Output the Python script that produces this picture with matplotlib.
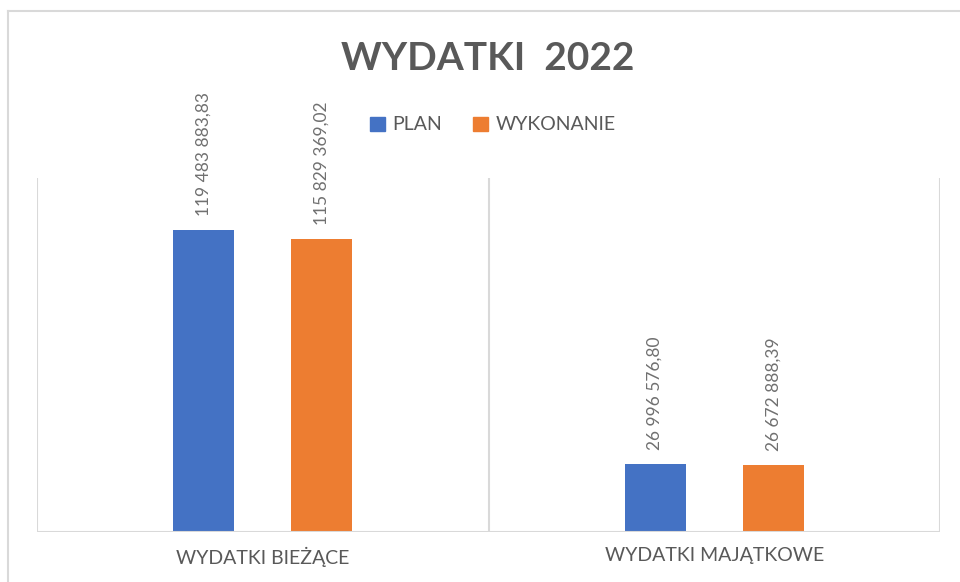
import numpy as np
import matplotlib.pyplot as plt
from matplotlib.patches import Patch
from matplotlib.lines import Line2D

categories = ['WYDATKI BIEŻĄCE', 'WYDATKI MAJĄTKOWE']
plan = [119483883.83, 26996576.80]
wykonanie = [115829369.02, 26672888.39]
series_names = ['PLAN', 'WYKONANIE']
title = 'WYDATKI  2022'

blue = '#4472C4'
orange = '#ED7D31'
grid = '#D9D9D9'
txt = '#595959'

plt.rcParams['font.family'] = ['Lato', 'DejaVu Sans']


def fmt(v):
    s = f'{v:,.2f}'
    return s.replace(',', ' ').replace('.', ',')


fig = plt.figure(figsize=(9.6, 5.82), dpi=100)

# outer frame (left and top edges visible)
fig.add_artist(Line2D([8 / 960, 8 / 960], [0, 1 - 11 / 582], transform=fig.transFigure,
                      color=grid, lw=1.5))
fig.add_artist(Line2D([8 / 960, 1], [1 - 11 / 582, 1 - 11 / 582], transform=fig.transFigure,
                      color=grid, lw=1.5))

ax = fig.add_axes([37 / 960, 50 / 582, 903 / 960, 354 / 582])
x = np.arange(len(categories))
w = 0.135
off = 0.131
b1 = ax.bar(x - off, plan, w, color=blue, label=series_names[0])
b2 = ax.bar(x + off, wykonanie, w, color=orange, label=series_names[1])

for bars, vals in [(b1, plan), (b2, wykonanie)]:
    for rect, v in zip(bars, vals):
        ax.annotate(fmt(v), (rect.get_x() + rect.get_width() / 2, v),
                    xytext=(0, 10), textcoords='offset points',
                    rotation=90, ha='center', va='bottom',
                    fontsize=12.5, color='#707070')

ax.set_xlim(-0.5, len(categories) - 0.5)
ax.set_ylim(0, 140000000)
for b in np.arange(-0.5, len(categories), 1.0):
    ax.axvline(b, color=grid, lw=1.5)
ax.axhline(0, color=grid, lw=1.5)
for s in ax.spines.values():
    s.set_visible(False)
ax.set_yticks([])
ax.set_xticks(x)
ax.set_xticklabels(categories, fontsize=14, color=txt)
ax.tick_params(axis='x', length=0, pad=11)

fig.text(0.508, 1 - 59 / 582, title, ha='center', va='center',
         fontsize=28, fontweight='bold', color=txt)

handles = [Patch(color=blue), Patch(color=orange)]
fig.legend(handles, series_names, loc='center', bbox_to_anchor=(493 / 960, 1 - 125 / 582),
           ncol=2, frameon=False, fontsize=14, labelcolor=txt,
           handlelength=0.75, handleheight=0.75, handletextpad=0.4, columnspacing=1.6)

fig.savefig('out.png', dpi=100)
